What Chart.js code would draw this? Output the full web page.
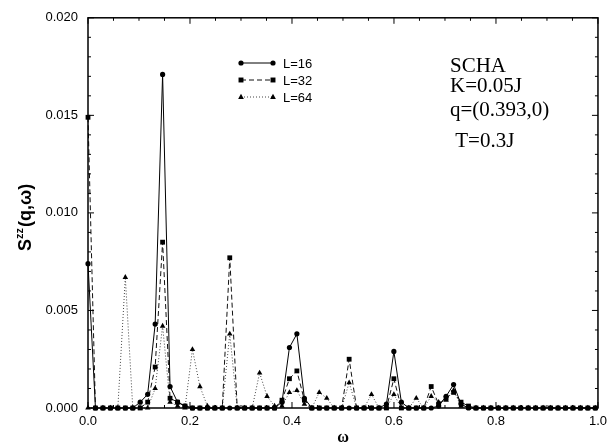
<!DOCTYPE html>
<html>
<head>
<meta charset="utf-8">
<script src="https://cdn.jsdelivr.net/npm/chart.js@4/dist/chart.umd.min.js"></script>
<style>
  html, body { margin: 0; padding: 0; background: #fff; }
  canvas { display: block; }
</style>
</head>
<body>
<canvas id="c" width="613" height="444"></canvas>
<script>
// frequency grid (omega, in units of J)
const omega = [
  0.0000, 0.0146, 0.0293, 0.0439, 0.0585, 0.0732, 0.0878, 0.1024, 0.1170, 0.1317,
  0.1463, 0.1609, 0.1756, 0.1902, 0.2048, 0.2195, 0.2341, 0.2487, 0.2633, 0.2780,
  0.2926, 0.3072, 0.3219, 0.3365, 0.3511, 0.3658, 0.3804, 0.3950, 0.4096, 0.4243,
  0.4389, 0.4535, 0.4682, 0.4828, 0.4974, 0.5121, 0.5267, 0.5413, 0.5559, 0.5706,
  0.5852, 0.5998, 0.6145, 0.6291, 0.6437, 0.6584, 0.6730, 0.6876, 0.7022, 0.7169,
  0.7315, 0.7461, 0.7608, 0.7754, 0.7900, 0.8047, 0.8193, 0.8339, 0.8485, 0.8632,
  0.8778, 0.8924, 0.9071, 0.9217, 0.9363, 0.9510, 0.9656, 0.9802, 0.9948
];

// S^zz(q,w) for the three lattice sizes
const szzL16 = [
  0.0074, 0, 0, 0, 0, 0, 0, 0.0003, 0.0007, 0.0043,
  0.0171, 0.0011, 0.0003, 0.0001, 0, 0, 0, 0, 0, 0,
  0, 0, 0, 0, 0, 0, 0.0003, 0.0031, 0.0038, 0.0005,
  0, 0, 0, 0, 0, 0, 0, 0, 0, 0,
  0.0002, 0.0029, 0.0003, 0, 0, 0, 0, 0.0001, 0.0006, 0.0012,
  0.0002, 0, 0, 0, 0, 0, 0, 0, 0, 0,
  0, 0, 0, 0, 0, 0, 0, 0, 0
];
const szzL32 = [
  0.0149, 0, 0, 0, 0, 0, 0, 0, 0.0003, 0.0021,
  0.0085, 0.0005, 0.0003, 0.0001, 0, 0, 0, 0, 0, 0.0077,
  0, 0, 0, 0, 0, 0, 0.0004, 0.0015, 0.0019, 0.0004,
  0, 0, 0, 0, 0, 0.0025, 0, 0, 0, 0,
  0, 0.0015, 0, 0, 0, 0, 0.0011, 0.0002, 0.0005, 0.0008,
  0.0003, 0.0001, 0, 0, 0, 0, 0, 0, 0, 0,
  0, 0, 0, 0, 0, 0, 0, 0, 0
];
const szzL64 = [
  0, 0, 0, 0, 0, 0.0067, 0, 0, 0, 0.0010,
  0.0042, 0.0003, 0.0001, 0, 0.0030, 0.0011, 0.0001, 0, 0, 0.0038,
  0, 0, 0, 0.0018, 0.0006, 0.0001, 0.0001, 0.0008, 0.0009, 0.0002,
  0, 0.0008, 0.0005, 0, 0, 0.0013, 0, 0, 0.0007, 0,
  0, 0.0007, 0, 0, 0.0005, 0, 0.0006, 0.0003, 0.0004, 0.0009,
  0.0001, 0, 0, 0, 0, 0, 0, 0, 0, 0,
  0, 0, 0, 0, 0, 0, 0, 0, 0
];

const seriesLabels = ['L=16', 'L=32', 'L=64'];
const infoLines = ['SCHA', 'K=0.05J', 'q=(0.393,0)', ' T=0.3J'];

const SANS = '"Liberation Sans", Arial, sans-serif';
const SERIF = '"Liberation Serif", "Times New Roman", serif';

function pts(vals){ return omega.map((w, i) => ({ x: w, y: vals[i] })); }

function marker(ctx, style, r, x, y){
  ctx.beginPath();
  if(style === 'rect'){ const s = r * 1.45; ctx.rect(x - s/2, y - s/2, s, s); }
  else if(style === 'triangle'){ ctx.moveTo(x, y - r); ctx.lineTo(x + r*0.9, y + r*0.6); ctx.lineTo(x - r*0.9, y + r*0.6); ctx.closePath(); }
  else { ctx.arc(x, y, r, 0, Math.PI*2); }
  ctx.fill();
}

// box, inward major/minor ticks, legend, text block, axis titles
const decor = {
  id: 'decor',
  afterDraw(chart){
    const ctx = chart.ctx, a = chart.chartArea;
    const xs = chart.scales.x, ys = chart.scales.y;
    ctx.save();
    ctx.strokeStyle = '#000';
    ctx.lineWidth = 1.5;
    ctx.strokeRect(a.left, a.top, a.right - a.left, a.bottom - a.top);

    ctx.lineWidth = 1;
    ctx.beginPath();
    for(let i = 0; i <= 20; i++){
      const v = i * 0.05, px = xs.getPixelForValue(v), len = (i % 4 === 0) ? 6 : 3;
      ctx.moveTo(px, a.bottom); ctx.lineTo(px, a.bottom - len);
      ctx.moveTo(px, a.top); ctx.lineTo(px, a.top + len);
    }
    for(let i = 0; i <= 20; i++){
      const v = i * 0.001, py = ys.getPixelForValue(v), len = (i % 5 === 0) ? 6 : 3;
      ctx.moveTo(a.left, py); ctx.lineTo(a.left + len, py);
      ctx.moveTo(a.right, py); ctx.lineTo(a.right - len, py);
    }
    ctx.stroke();

    // legend
    chart.data.datasets.forEach((ds, i) => {
      const y = 63 + i * 17, x0 = 241, x1 = 273;
      ctx.strokeStyle = ds.borderColor;
      ctx.fillStyle = '#000';
      ctx.lineWidth = 1;
      ctx.setLineDash(ds.borderDash || []);
      ctx.beginPath(); ctx.moveTo(x0, y); ctx.lineTo(x1, y); ctx.stroke();
      ctx.setLineDash([]);
      marker(ctx, ds.pointStyle, ds.pointRadius, x0, y);
      marker(ctx, ds.pointStyle, ds.pointRadius, x1, y);
      ctx.font = '13px ' + SANS;
      ctx.textAlign = 'left'; ctx.textBaseline = 'middle';
      ctx.fillText(ds.label, 283, y + 1);
    });

    // parameter block
    ctx.fillStyle = '#000';
    ctx.font = '21px ' + SERIF;
    ctx.textAlign = 'left'; ctx.textBaseline = 'alphabetic';
    const baselines = [72, 92, 116, 147];
    infoLines.forEach((t, i) => ctx.fillText(t, 450, baselines[i]));

    // x title
    ctx.font = 'bold 16px ' + SERIF;
    ctx.textAlign = 'center'; ctx.textBaseline = 'alphabetic';
    ctx.fillText('ω', (a.left + a.right) / 2, 442);

    // y title S^zz(q,w)
    ctx.translate(31, 251);
    ctx.rotate(-Math.PI / 2);
    ctx.textAlign = 'left';
    ctx.font = 'bold 18px ' + SANS;
    ctx.fillText('S', 0, 0);
    let w = ctx.measureText('S').width;
    ctx.font = 'bold 11px ' + SANS;
    ctx.fillText('zz', w, -8);
    w += ctx.measureText('zz').width + 1;
    ctx.font = 'bold 18px ' + SANS;
    ctx.fillText('(q,ω)', w, 0);
    ctx.restore();
  }
};

new Chart(document.getElementById('c'), {
  type: 'line',
  data: {
    datasets: [
      { label: seriesLabels[0], data: pts(szzL16), borderColor: '#000', borderWidth: 1,
        pointStyle: 'circle', pointRadius: 2.6, pointBackgroundColor: '#000', pointBorderWidth: 0, clip: false },
      { label: seriesLabels[1], data: pts(szzL32), borderColor: '#111', borderWidth: 1, borderDash: [5, 3],
        pointStyle: 'rect', pointRadius: 3.4, pointBackgroundColor: '#000', pointBorderWidth: 0, clip: false },
      { label: seriesLabels[2], data: pts(szzL64), borderColor: '#444', borderWidth: 1, borderDash: [1, 2],
        pointStyle: 'triangle', pointRadius: 3.2, pointBackgroundColor: '#000', pointBorderWidth: 0, clip: false }
    ]
  },
  options: {
    responsive: false,
    animation: false,
    devicePixelRatio: 1,
    layout: { padding: { top: 15, right: 11, left: 0, bottom: 0 } },
    plugins: { legend: { display: false }, tooltip: { enabled: false } },
    elements: { line: { tension: 0 } },
    scales: {
      x: {
        type: 'linear', min: 0, max: 1,
        grid: { display: false, drawTicks: false },
        border: { display: false },
        ticks: { stepSize: 0.2, padding: 6, maxRotation: 0, autoSkip: false, color: '#000',
          font: { family: SANS, size: 13 }, callback: v => v.toFixed(1) },
        afterFit(s){ s.height = 36; }
      },
      y: {
        type: 'linear', min: 0, max: 0.02,
        grid: { display: false, drawTicks: false },
        border: { display: false },
        ticks: { stepSize: 0.005, padding: 10, color: '#000',
          font: { family: SANS, size: 13 }, callback: v => v.toFixed(3) },
        afterFit(s){ s.width = 88; }
      }
    }
  },
  plugins: [decor]
});
</script>
</body>
</html>
